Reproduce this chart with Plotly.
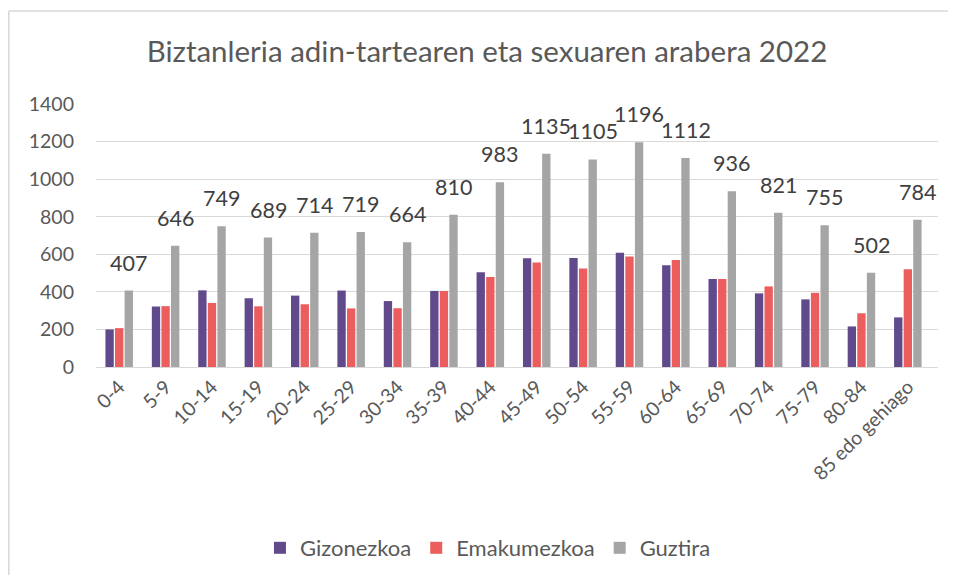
import plotly.graph_objects as go

categories = ["0-4", "5-9", "10-14", "15-19", "20-24", "25-29", "30-34", "35-39",
              "40-44", "45-49", "50-54", "55-59", "60-64", "65-69", "70-74", "75-79",
              "80-84", "85 edo gehiago"]
gizonezkoa = [200, 322, 408, 366, 380, 407, 351, 405, 504, 579, 580, 608, 542, 468, 392, 360, 216, 264]
emakumezkoa = [207, 324, 341, 323, 334, 312, 313, 405, 479, 556, 525, 588, 570, 468, 429, 395, 286, 520]
guztira = [407, 646, 749, 689, 714, 719, 664, 810, 983, 1135, 1105, 1196, 1112, 936, 821, 755, 502, 784]
y_ticks = [0, 200, 400, 600, 800, 1000, 1200, 1400]

FONT = "Lato, Carlito, Calibri, sans-serif"
TXT = "#595959"

# the page body adds an 8px offset; figure is sized to the visible area
W, H = 940, 567
L, R, T, B = 88, 10, 96, 208
PW, PH = W - L - R, H - T - B

fig = go.Figure()
fig.add_bar(x=categories, y=gizonezkoa, name="Gizonezkoa", marker_color="#604A8C",
            marker_line_width=0)
fig.add_bar(x=categories, y=emakumezkoa, name="Emakumezkoa", marker_color="#EC5E5E",
            marker_line_width=0)
fig.add_bar(x=categories, y=guztira, name="Guztira", marker_color="#A5A5A5",
            marker_line_width=0)

# data labels above the "Guztira" bars (third bar of each group)
slot = PW / len(categories) * (1 - 0.38) / 3
for c, v in zip(categories, guztira):
    fig.add_annotation(x=c, y=v, text=str(v), showarrow=False, yanchor="bottom",
                       xanchor="center", xshift=slot, yshift=13,
                       font=dict(family=FONT, size=21.5, color="#404040"))

fig.update_layout(
    width=W, height=H,
    margin=dict(l=L, r=R, t=T, b=B),
    paper_bgcolor="white", plot_bgcolor="white",
    barmode="group", bargap=0.38, bargroupgap=0.13,
    font=dict(family=FONT, size=19.5, color=TXT),
    title=dict(text="Biztanleria adin-tartearen eta sexuaren arabera 2022",
               x=479 / W, xanchor="center", y=1 - 44 / H, yanchor="middle",
               font=dict(family=FONT, size=29.5, color=TXT)),
    legend=dict(orientation="h", x=0.4655, xanchor="center", yref="container",
                y=1 - 540 / H, yanchor="middle",
                font=dict(family=FONT, size=22, color=TXT), traceorder="normal",
                itemwidth=30),
    showlegend=True,
)
fig.update_xaxes(tickangle=-45, showgrid=False, showline=True, linecolor="#D9D9D9",
                 linewidth=1, ticks="", tickfont=dict(family=FONT, size=19.5, color=TXT))
fig.update_yaxes(range=[0, 1400], tickvals=y_ticks, showgrid=True, gridcolor="#D9D9D9",
                 gridwidth=1, zeroline=False, showline=False, ticks="",
                 tickfont=dict(family=FONT, size=19.5, color=TXT), ticklabelstandoff=21)

# outer chart frame: only the top and left edges are visible in the picture
fx0 = (0.8 - L) / PW
fy1 = (T + PH - 3) / PH
fig.add_shape(type="line", xref="paper", yref="paper", x0=fx0, x1=(W + 20 - L) / PW,
              y0=fy1, y1=fy1, line=dict(color="#D9D9D9", width=1.6), layer="below")
fig.add_shape(type="line", xref="paper", yref="paper", x0=fx0, x1=fx0,
              y0=(T + PH - (H + 20)) / PH, y1=fy1,
              line=dict(color="#D9D9D9", width=1.6), layer="below")

fig.write_html("out.html")
